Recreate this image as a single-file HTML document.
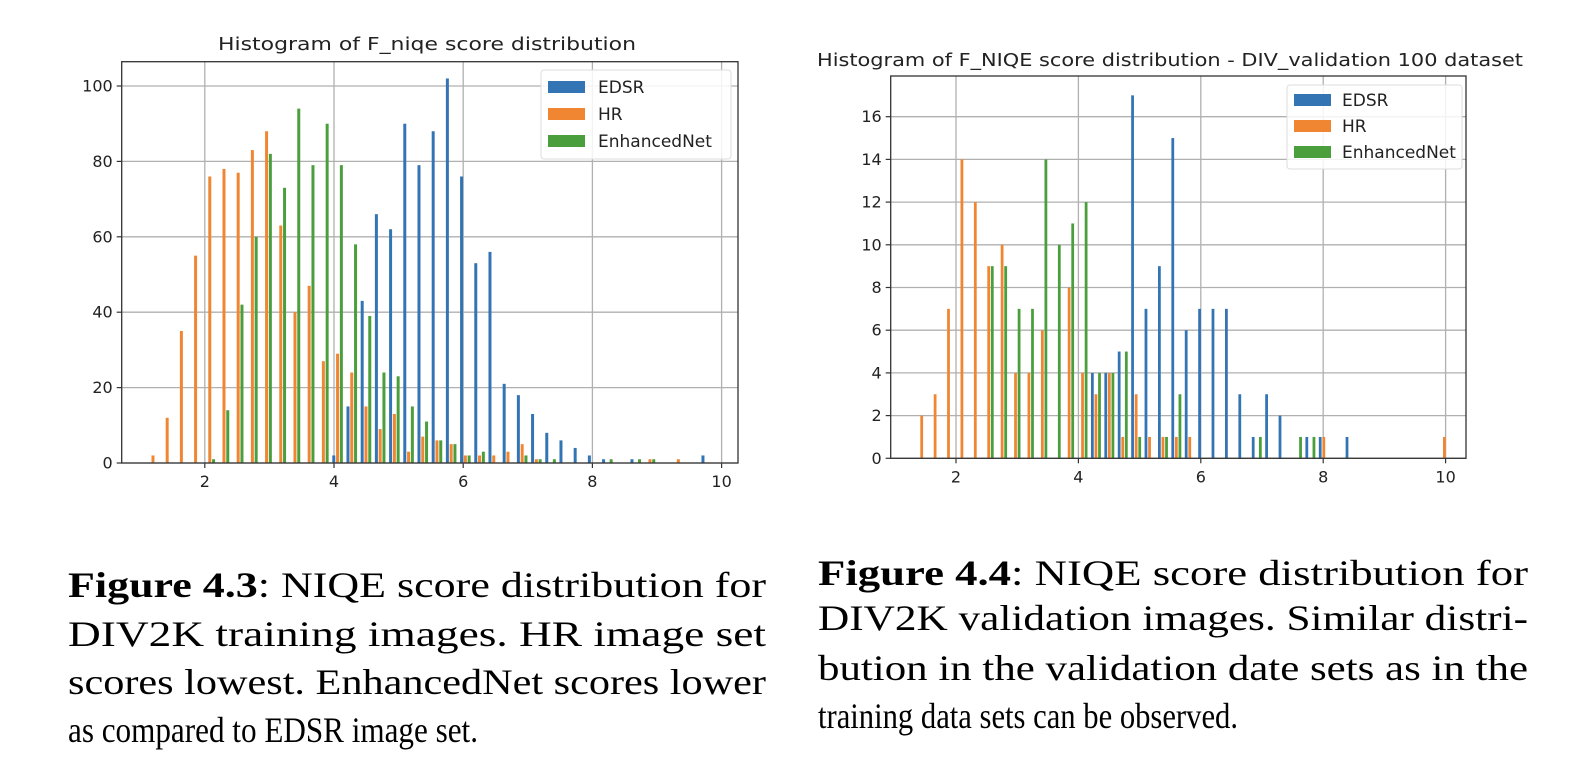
<!DOCTYPE html>
<html><head><meta charset="utf-8"><style>
html,body{margin:0;padding:0;background:#fff;}
svg{display:block;}
</style></head><body>
<svg id="root" width="1584" height="782" viewBox="0 0 1584 782" xmlns="http://www.w3.org/2000/svg">
<g id="chartL"></g>
<g id="chartR"></g>
<g font-family="'Liberation Serif', serif" font-size="36" fill="#000">
<text x="68" y="597" textLength="698" lengthAdjust="spacingAndGlyphs"><tspan font-weight="bold">Figure 4.3</tspan>: NIQE score distribution for</text>
<text x="68" y="646" textLength="698" lengthAdjust="spacingAndGlyphs">DIV2K training images.  HR image set</text>
<text x="68" y="694" textLength="698" lengthAdjust="spacingAndGlyphs">scores lowest.  EnhancedNet scores lower</text>
<text x="68" y="742" textLength="410" lengthAdjust="spacingAndGlyphs">as compared to EDSR image set.</text>
</g>
<g font-family="'Liberation Serif', serif" font-size="36" fill="#000">
<text x="818" y="585" textLength="710" lengthAdjust="spacingAndGlyphs"><tspan font-weight="bold">Figure 4.4</tspan>:  NIQE score distribution for</text>
<text x="818" y="630" textLength="710" lengthAdjust="spacingAndGlyphs">DIV2K validation images.  Similar distri-</text>
<text x="818" y="680" textLength="710" lengthAdjust="spacingAndGlyphs">bution in the validation date sets as in the</text>
<text x="818" y="728" textLength="420" lengthAdjust="spacingAndGlyphs">training data sets can be observed.</text>
</g>
</svg>
<script>
// ---- Left chart data (40 bins) ----
const leftBinStart = 1.088;
const leftBinWidth = 0.2198;
const leftEDSR = [0,0,0,0,0,0,0,0,0,0,0,0,0,2,15,43,66,62,90,79,88,102,76,53,56,21,18,13,8,6,4,2,1,0,1,0,0,0,0,2];
const leftHR   = [2,12,35,55,76,78,77,83,88,63,40,47,27,29,24,15,9,13,3,7,6,5,2,2,2,3,5,1,0,0,0,0,0,0,0,1,0,1,0,0];
const leftEnh  = [0,0,0,0,1,14,42,60,82,73,94,79,90,79,58,39,24,23,15,11,6,5,2,3,0,0,2,1,1,0,0,0,1,0,1,1,0,0,0,0];
const leftYTicks = [0,20,40,60,80,100];
const leftXTicks = [2,4,6,8,10];
// ---- Right chart data (40 bins) ----
const rightBinStart = 1.33;
const rightBinWidth = 0.219;
const rightEDSR = [0,0,0,0,0,0,0,0,0,0,0,0,0,4,4,5,17,7,9,15,6,7,7,7,3,1,3,2,0,1,1,0,1,0,0,0,0,0,0,0];
const rightHR   = [2,3,7,14,12,9,10,4,4,6,0,8,4,3,4,1,3,1,1,1,1,0,0,0,0,0,0,0,0,0,1,0,0,0,0,0,0,0,0,1];
const rightEnh  = [0,0,0,0,0,9,9,7,7,14,10,11,12,4,4,5,1,0,1,3,0,0,0,0,0,1,0,0,1,1,0,0,0,0,0,0,0,0,0,0];
const rightYTicks = [0,2,4,6,8,10,12,14,16];
const rightXTicks = [2,4,6,8,10];
const seriesNames = ["EDSR","HR","EnhancedNet"];
const seriesColors = ["#3274b4","#f08532","#4a9e3c"];

const NS = "http://www.w3.org/2000/svg";
function mk(parent, tag, attrs, txt){
  const e = document.createElementNS(NS, tag);
  for (const k in attrs) e.setAttribute(k, attrs[k]);
  if (txt !== undefined) e.textContent = txt;
  parent.appendChild(e);
  return e;
}
function drawChart(g, cfg){
  const xs = v => cfg.px0 + (v - cfg.xv0) * cfg.pxPerUnit;
  const ys = v => cfg.py0 - v * cfg.pyPerUnit;
  cfg.xTicks.forEach(t => {
    const l = mk(g,'line',{x1:xs(t),x2:xs(t),y1:cfg.top,y2:cfg.bottom,stroke:'#b0b0b0','stroke-width':1.3});
    
    
    mk(g,'line',{x1:xs(t),x2:xs(t),y1:cfg.bottom,y2:cfg.bottom+5,stroke:'#333','stroke-width':1.2});
    const tx = mk(g,'text',{x:xs(t),y:cfg.bottom+24,'text-anchor':'middle','font-family':"'DejaVu Sans',sans-serif",'font-size':16,fill:'#222'}, String(t));
    
    
  });
  cfg.yTicks.forEach(t => {
    const l = mk(g,'line',{x1:cfg.left,x2:cfg.right,y1:ys(t),y2:ys(t),stroke:'#b0b0b0','stroke-width':1.3});
    
    
    mk(g,'line',{x1:cfg.left-5,x2:cfg.left,y1:ys(t),y2:ys(t),stroke:'#333','stroke-width':1.2});
    const tx = mk(g,'text',{x:cfg.left-9,y:ys(t)+5.5,'text-anchor':'end','font-family':"'DejaVu Sans',sans-serif",'font-size':16,fill:'#222'}, String(t));
    
    
  });
  const w = cfg.binWidth;
  const bw = 0.8 * w / 3;
  cfg.series.forEach((arr, si) => {
    arr.forEach((v, i) => {
      if (!v) return;
      const c = cfg.binStart + (i + 0.5) * w + (si - 1) * bw;
      const x1 = xs(c - bw/2), x2 = xs(c + bw/2);
      const r = mk(g,'rect',{x:x1+0.4,y:ys(v),width:Math.max(1,x2-x1-0.8),height:ys(0)-ys(v),fill:seriesColors[si]});
      
      
    });
  });
  const f = mk(g,'rect',{x:cfg.left,y:cfg.top,width:cfg.right-cfg.left,height:cfg.bottom-cfg.top,fill:'none',stroke:'#333','stroke-width':1.3});
  
  
  const ti = mk(g,'text',{x:cfg.titleX,y:cfg.titleY,'font-family':"'DejaVu Sans',sans-serif",'font-size':cfg.titleSize,fill:'#222',textLength:cfg.titleW,lengthAdjust:'spacingAndGlyphs'}, cfg.title);
  
  
  const L = cfg.legend;
  const lg = mk(g,'g',{});
  
  
  mk(lg,'rect',{x:L.x,y:L.y,width:L.w,height:L.h,rx:3,fill:'#fff','fill-opacity':0.85,stroke:'#ddd','stroke-width':1});
  seriesNames.forEach((n, si) => {
    const eg = mk(lg,'g',{});
    
    
    const yy = L.y + L.row0 + si * L.rowH;
    mk(eg,'rect',{x:L.x+7,y:yy-6,width:37,height:12,fill:seriesColors[si]});
    mk(eg,'text',{x:L.x+L.tx,y:yy+6,'font-family':"'DejaVu Sans',sans-serif",'font-size':17,fill:'#222'}, n);
  });
}
drawChart(document.getElementById('chartL'), {
  px0:204.8, xv0:2, pxPerUnit:64.6, py0:463, pyPerUnit:3.77,
  left:121.7, right:738, top:61.7, bottom:463,
  xTicks:leftXTicks, yTicks:leftYTicks,
  binStart:leftBinStart, binWidth:leftBinWidth,
  series:[leftEDSR, leftHR, leftEnh],
  title:"Histogram of F_niqe score distribution", titleX:218, titleW:418, titleY:50, titleSize:18,
  legend:{x:541, y:70, w:190, h:89, row0:17, rowH:27, tx:57}
});
drawChart(document.getElementById('chartR'), {
  px0:956, xv0:2, pxPerUnit:61.2, py0:458.3, pyPerUnit:21.35,
  left:890.7, right:1466, top:76, bottom:458.3,
  xTicks:rightXTicks, yTicks:rightYTicks,
  binStart:rightBinStart, binWidth:rightBinWidth,
  series:[rightEDSR, rightHR, rightEnh],
  title:"Histogram of F_NIQE score distribution - DIV_validation 100 dataset", titleX:817, titleW:706, titleY:66, titleSize:18,
  legend:{x:1287, y:85, w:175, h:84, row0:15, rowH:26, tx:55}
});
</script>
</body></html>
